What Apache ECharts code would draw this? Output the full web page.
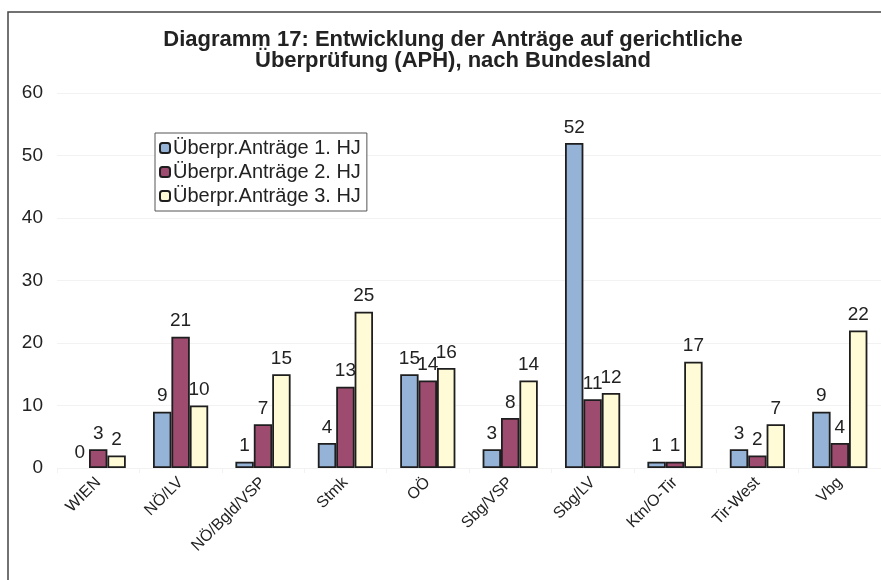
<!DOCTYPE html>
<html>
<head>
<meta charset="utf-8">
<script src="https://cdn.jsdelivr.net/npm/echarts@6/dist/echarts.min.js"></script>
<style>
html,body{margin:0;padding:0;background:#fff;}
#c{width:881px;height:580px;}
</style>
</head>
<body>
<div id="c"></div>
<script>
const categories = ['WIEN','NÖ/LV','NÖ/Bgld/VSP','Stmk','OÖ','Sbg/VSP','Sbg/LV','Ktn/O-Tir','Tir-West','Vbg'];
const seriesNames = ['Überpr.Anträge 1. HJ','Überpr.Anträge 2. HJ','Überpr.Anträge 3. HJ'];
const hj1 = [0, 9, 1, 4, 15, 3, 52, 1, 3, 9];
const hj2 = [3, 21, 7, 13, 14, 8, 11, 1, 2, 4];
const hj3 = [2, 10, 15, 25, 16, 14, 12, 17, 7, 22];
const colors = ['#95b3d7', '#9e4b70', '#fffbd6'];
const FONT = 'Liberation Sans, Arial, sans-serif';

const chart = echarts.init(document.getElementById('c'), null, {renderer:'canvas'});
function mk(name, data, color){
  return {
    name: name, type: 'bar',
    data: data.map(v => v === 0 ? {value: v, itemStyle: {borderWidth: 0}} : v),
    barGap: '0%', barCategoryGap: '33%',
    itemStyle: {color: color, borderColor: '#1e1e1e', borderWidth: 1.8},
    label: {show: true, position: 'top', distance: 6, color: '#222', fontSize: 19, fontFamily: FONT}
  };
}
chart.setOption({
  animation: false,
  backgroundColor: '#fff',
  graphic: [{type:'rect', shape:{x:8, y:12, width:900, height:600}, style:{fill:'none', stroke:'#444', lineWidth:1.5}, silent:true, z:-1}],
  title: {
    text: 'Diagramm 17: Entwicklung der Anträge auf gerichtliche\nÜberprüfung (APH), nach Bundesland',
    left: 448, top: 24, textAlign: 'center',
    textStyle: {fontFamily: FONT, fontWeight: 'bold', fontSize: 22, lineHeight: 21, color: '#222'}
  },
  legend: {
    orient: 'vertical', left: 155, top: 133,
    padding: [4, 6, 4, 4], itemGap: 2, itemWidth: 10, itemHeight: 10,
    borderColor: '#555', borderWidth: 1, backgroundColor: '#fff',
    textStyle: {fontFamily: FONT, fontSize: 20, lineHeight: 22, color: '#222', padding: [0,0,0,-2]},
    data: seriesNames
  },
  grid: {left: 57, right: -3, top: 93, bottom: 112, containLabel: false},
  xAxis: {
    type: 'category', data: categories,
    axisLine: {show: false}, axisTick: {show: true, lineStyle:{color:'#f2f2f2'}},
    axisLabel: {rotate: 45, fontFamily: FONT, fontSize: 16, color: '#222', margin: 12, interval: 0}
  },
  yAxis: {
    type: 'value', min: 0, max: 60, interval: 10,
    axisLine: {show: false}, axisTick: {show: false},
    splitLine: {lineStyle: {color: '#f2f2f2'}},
    axisLabel: {fontFamily: FONT, fontSize: 19, color: '#222', margin: 14}
  },
  series: [mk(seriesNames[0], hj1, colors[0]), mk(seriesNames[1], hj2, colors[1]), mk(seriesNames[2], hj3, colors[2])]
});
</script>
</body>
</html>
